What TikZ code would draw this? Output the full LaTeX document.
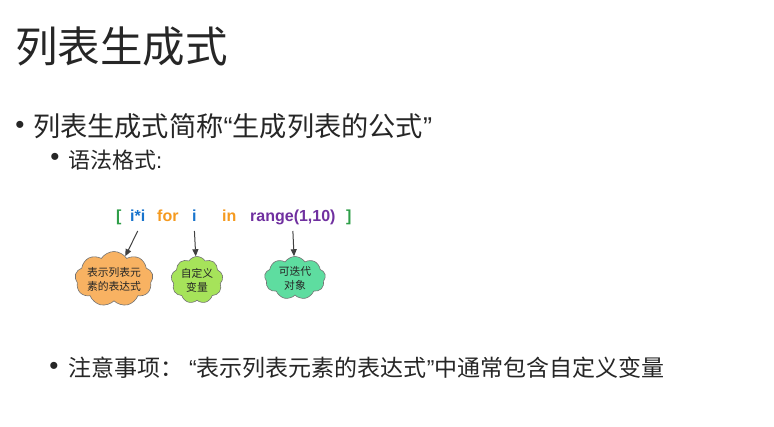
\documentclass[tikz,border=0pt]{standalone}
\usepackage{fontspec}
\setmainfont{Noto Sans CJK SC}
\newfontfamily\lat{Liberation Sans}
\usetikzlibrary{shapes.symbols,arrows.meta}
\definecolor{cgreen}{HTML}{2E9E48}
\definecolor{cblue}{HTML}{1874CD}
\definecolor{corange}{HTML}{F59A1F}
\definecolor{cpurple}{HTML}{7030A0}
\definecolor{fillorange}{HTML}{F8B262}
\definecolor{fillgreen}{HTML}{A6E35A}
\definecolor{fillteal}{HTML}{5EDDA0}
\definecolor{txt}{HTML}{262626}
\tikzset{
  bul/.style={anchor=base, inner sep=0, font=\lat\fontsize{26}{26}\selectfont, text=txt},
  lvlone/.style={anchor=west, inner sep=0, font=\fontsize{27.2}{27.2}\selectfont, text=txt},
  lvltwo/.style={anchor=west, inner sep=0, font=\fontsize{22}{22}\selectfont, text=txt},
  tok/.style={anchor=base west, inner sep=0, font=\lat\bfseries\fontsize{16}{16}\selectfont},
  cl/.style={cloud, cloud puffs=9, cloud puff arc=115, cloud ignores aspect, draw=black!55, line width=0.6pt,
    inner sep=0, align=center, font=\fontsize{10.8}{14}\selectfont, text=txt},
  arr/.style={-{Triangle[length=7pt,width=6pt]}, draw=black!75, line width=1pt}
}
\begin{document}
\begin{tikzpicture}[x=1pt,y=-1pt]
\useasboundingbox[fill=white] (0,0) rectangle (774,427);
\node[anchor=west, inner sep=0, font=\fontsize{42.5}{42.5}\selectfont, text=txt] (title) at (15,47) {列表生成式};

\node[bul] (b1) at (20,134) {•};
\node[lvlone] (l1) at (33,126) {列表生成式简称{\lat “}生成列表的公式{\lat ”}};

\node[bul] (b2) at (55,166) {•};
\node[lvltwo] (l2) at (68,160) {语法格式{\lat :}};

\node[tok, text=cgreen] (lb) at (116,222) {[};
\node[tok, text=cblue] (ii) at (130,222) {i*i};
\node[tok, text=corange] (for) at (157,222) {for};
\node[tok, text=cblue] (iv) at (192,222) {i};
\node[tok, text=corange] (in) at (222,222) {in};
\node[tok, text=cpurple] (rg) at (250,222) {range(1,10)};
\node[tok, text=cgreen] (rb) at (346,222) {]};

\node[cl, fill=fillorange, minimum width=78pt, minimum height=55pt] (c1) at (114,279) {表示列表元\\素的表达式};
\node[cl, fill=fillgreen, minimum width=52pt, minimum height=47pt] (c2) at (197,280) {自定义\\变量};
\node[cl, fill=fillteal, minimum width=61pt, minimum height=43pt] (c3) at (295,278) {可迭代\\对象};

\draw[arr] ([yshift=-9pt]ii.base) -- (c1);
\draw[arr] ([yshift=-9pt]iv.base) -- (c2);
\draw[arr] ([yshift=-9pt]rg.base) -- (c3);

\node[bul] (b3) at (54,375) {•};
\node[anchor=west, inner sep=0, font=\fontsize{23}{23}\selectfont, text=txt] (l3) at (68,368) {注意事项：\hspace{6pt}{\lat “}表示列表元素的表达式{\lat ”}中通常包含自定义变量};
\end{tikzpicture}
\end{document}
